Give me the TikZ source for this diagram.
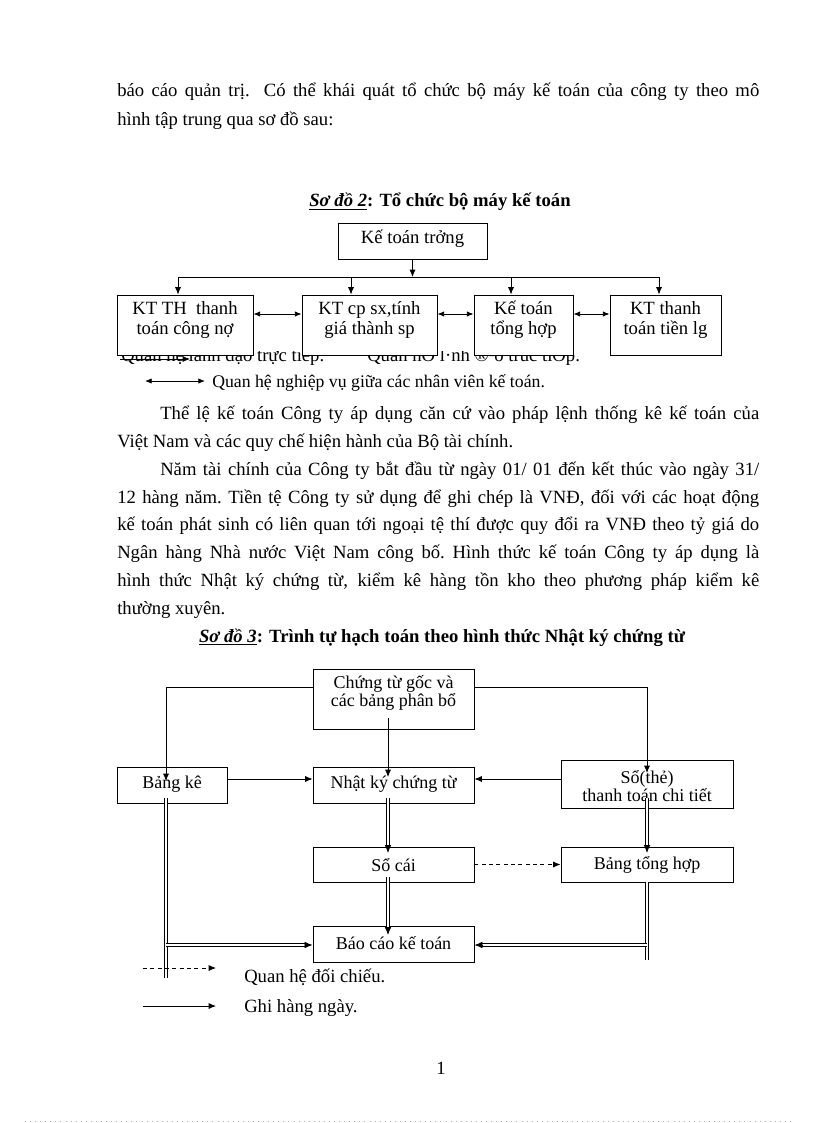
\documentclass[tikz,border=0pt]{standalone}
\usepackage{fontspec}
\setmainfont{Liberation Serif}
\usetikzlibrary{arrows.meta,calc}
\newcommand\mydblarr[2]{\draw[dbl] (#1) -- ($(#2)!4pt!(#1)$); \draw[tipa] ($(#2)!6pt!(#1)$) -- (#2);}
\begin{document}
\begin{tikzpicture}[x=0.75pt,y=-0.75pt,
 box/.style={draw, line width=0.7pt, fill=white, inner sep=0pt},
 lbl/.style={inner sep=0pt, align=center, font=\fontsize{14}{15}\selectfont},
 lblb/.style={inner sep=0pt, align=center, font=\fontsize{13.5}{13.5}\selectfont},
 body/.style={inner sep=0pt, anchor=base west, font=\fontsize{14}{17}\selectfont},
 ttl/.style={inner sep=0pt, anchor=base, font=\fontsize{14}{17}\selectfont\bfseries},
 arr/.style={line width=0.6pt, -{Latex[length=5.5pt,width=4.5pt]}},
 tipa/.style={line width=0.6pt, -{Latex[length=6pt,width=5pt]}},
 darr/.style={line width=0.6pt, {Latex[length=5pt,width=4pt]}-{Latex[length=5pt,width=4pt]}},
 dbl/.style={double, double distance=1.3pt, line width=0.55pt},
 dsh/.style={arr, dash pattern=on 3pt off 2.5pt},
 ln/.style={line width=0.6pt}]
\fill[white] (0,0) rectangle (816,1123);
\useasboundingbox (0,0) rectangle (816,1123);

% ---------- top text
\node[body] (t1) at (117,97) {\makebox[481.5pt][s]{báo cáo quản trị. Có thể khái quát tổ chức bộ máy kế toán của công ty theo mô}};
\node[body] (t2) at (117,126) {hình tập trung qua sơ đồ sau:};
\node[ttl] (T1) at (440,207) {\underline{\textit{Sơ đồ 2}}: Tổ chức bộ máy kế toán};

% ---------- legend 1 (partly hidden)
\begin{scope}
\clip (100,351) rectangle (640,372);
\node[body] (lg1) at (121,361) {Quan hệ lãnh đạo trực tiếp.};
\node[body] (lg2) at (367,361) {Quan hÖ l·nh ®¹o trùc tiÕp.};
\end{scope}

% ---------- diagram 1
\node[box, minimum width=111.75pt, minimum height=27pt] (KTT) at (412.5,241) {};
\node[lbl] (KTTt) at (412.5,239) {Kế toán trởng};
\node[box, minimum width=102pt, minimum height=45pt] (b1) at (185,325) {};
\node[box, minimum width=101.25pt, minimum height=45pt] (b2) at (369.5,325) {};
\node[box, minimum width=74.25pt, minimum height=45pt] (b3) at (523.5,325) {};
\node[box, minimum width=83.25pt, minimum height=45pt] (b4) at (665.5,325) {};
\node[lbl] (b1t) at (185,320) {KT TH\ \ thanh\\toán công nợ};
\node[lbl] (b2t) at (369.5,320) {KT cp sx,tính\\giá thành sp};
\node[lbl] (b3t) at (523.5,320) {Kế toán\\tổng hợp};
\node[lbl] (b4t) at (665.5,320) {KT thanh\\toán tiền lg};

\coordinate (busL) at (178,277);
\coordinate (busR) at (659,277);
\coordinate (d2) at (351,277);
\coordinate (d3) at (511,277);
\draw[ln] (busL) -- (busR);
\draw[arr] (KTT.south) -- (KTT.south |- busL);
\draw[arr] (busL) -- (busL |- b1.north);
\draw[arr] (d2) -- (d2 |- b2.north);
\draw[arr] (d3) -- (d3 |- b3.north);
\draw[arr] (busR) -- (busR |- b4.north);
\draw[darr] ([yshift=8.25pt]b1.east) -- ([yshift=8.25pt]b2.west);
\draw[darr] ([yshift=8.25pt]b2.east) -- ([yshift=8.25pt]b3.west);
\draw[darr] ([yshift=8.25pt]b3.east) -- ([yshift=8.25pt]b4.west);

% legend marks
\coordinate (la1) at (120,359);
\coordinate (la2) at (190,359);
\draw[arr] (la1) -- (la2);
\coordinate (lb1) at (145,381);
\coordinate (lb2) at (205,381);
\draw[darr] (lb1) -- (lb2);
\node[body, font=\fontsize{13.3}{16}\selectfont] (lg3) at (212,387) {Quan hệ nghiệp vụ giữa các nhân viên kế toán.};

% ---------- body text
\node[body] (p1) at (160,419) {\makebox[449.25pt][s]{Thể lệ kế toán Công ty áp dụng căn cứ vào pháp lệnh thống kê kế toán của}};
\node[body] (p2) at (117,447) {Việt Nam và các quy chế hiện hành của Bộ tài chính.};
\node[body] (p3) at (160,475) {\makebox[449.25pt][s]{Năm tài chính của Công ty bắt đầu từ ngày 01/ 01 đến kết thúc vào ngày 31/}};
\node[body] (p4) at (117,503) {\makebox[481.5pt][s]{\frenchspacing 12 hàng năm. Tiền tệ Công ty sử dụng để ghi chép là VNĐ, đối với các hoạt động}};
\node[body] (p5) at (117,530) {\makebox[481.5pt][s]{kế toán phát sinh có liên quan tới ngoại tệ thí được quy đổi ra VNĐ theo tỷ giá do}};
\node[body] (p6) at (117,558) {\makebox[481.5pt][s]{\frenchspacing Ngân hàng Nhà nước Việt Nam công bố. Hình thức kế toán Công ty áp dụng là}};
\node[body] (p7) at (117,586) {\makebox[481.5pt][s]{hình thức Nhật ký chứng từ, kiểm kê hàng tồn kho theo phương pháp kiểm kê}};
\node[body] (p8) at (117,614) {thường xuyên.};

\node[ttl] (T2) at (442,642) {\underline{\textit{Sơ đồ 3}}: Trình tự hạch toán theo hình thức Nhật ký chứng từ};

% ---------- diagram 2 boxes
\node[box, minimum width=120.75pt, minimum height=45pt] (C) at (393.5,699) {};
\node[box, minimum width=82.5pt, minimum height=27pt] (BK) at (172,785) {};
\node[box, minimum width=120.75pt, minimum height=27pt] (NK) at (393.5,785) {};
\node[box, minimum width=129pt, minimum height=36pt] (ST) at (647,784) {};
\node[box, minimum width=120.75pt, minimum height=26.25pt] (SC) at (393.5,864.5) {};
\node[box, minimum width=129pt, minimum height=26.25pt] (BTH) at (647,864.5) {};
\node[box, minimum width=120.75pt, minimum height=27pt] (BC) at (393.5,944) {};

\node[lblb] (Ct) at (393.5,693) {Chứng từ gốc và\\các bảng phân bổ};
\node[lblb] (BKt) at (172,784) {Bảng kê};
\node[lblb] (NKt) at (393.5,784) {Nhật ký chứng từ};
\node[lblb] (STt) at (647,786) {Sổ(thẻ)\\thanh toán chi tiết};
\node[lblb] (SCt) at (393.5,865) {Sổ cái};
\node[lblb] (BTHt) at (647,865) {Bảng tổng hợp};
\node[lblb] (BCt) at (393.5,943) {Báo cáo kế toán};

% ---------- diagram 2 connectors
\coordinate (tBK) at (166,781);
\coordinate (tST) at (647,773);
\draw[arr] ([yshift=9pt]C.west) -| (tBK);
\draw[arr] ([yshift=9pt]C.east) -| (tST);
\coordinate (sC) at (388,718);
\coordinate (tNK) at (388,777);
\draw[arr] (sC) -- (tNK);
\draw[arr] ([yshift=4.5pt]BK.east) -- ([yshift=4.5pt]NK.west);
\draw[arr] ([yshift=3.75pt]ST.west) -- ([yshift=4.5pt]NK.east);
\draw[dsh] (SC.east) -- (BTH.west);

\coordinate (n1) at (388,798);
\coordinate (n2) at (388,853);
\mydblarr{n1}{n2}
\coordinate (s1) at (647,798);
\coordinate (s2) at (647,853);
\mydblarr{s1}{s2}
\coordinate (c1) at (388,877);
\coordinate (c2) at (388,935);
\mydblarr{c1}{c2}

\coordinate (vl1) at (166,798);
\coordinate (vl2) at (166,978);
\draw[dbl] (vl1) -- (vl2);
\coordinate (hl) at (166,945);
\coordinate (hlE) at (BC.west |- hl);
\mydblarr{hl}{hlE}
\coordinate (vr1) at (647,882);
\coordinate (vr2) at (647,960);
\draw[dbl] (vr1) -- (vr2);
\coordinate (hr) at (647,945);
\coordinate (hrE) at (BC.east |- hr);
\mydblarr{hr}{hrE}

% ---------- legend 2
\coordinate (le1) at (143,968);
\coordinate (le2) at (216,968);
\draw[dsh] (le1) -- (le2);
\node[body] (lg4) at (244,982) {Quan hệ đối chiếu.};
\coordinate (lf1) at (143,1006);
\coordinate (lf2) at (216,1006);
\draw[arr] (lf1) -- (lf2);
\node[body] (lg5) at (244,1012) {Ghi hàng ngày.};

% ---------- page number and footer dots
\node[inner sep=0pt, font=\fontsize{14}{17}\selectfont] (pg) at (441,1068) {1};
\draw[gray!60, line width=0.4pt, dash pattern=on 0.6pt off 3.2pt] (25,1121) -- (792,1121);
\end{tikzpicture}
\end{document}
